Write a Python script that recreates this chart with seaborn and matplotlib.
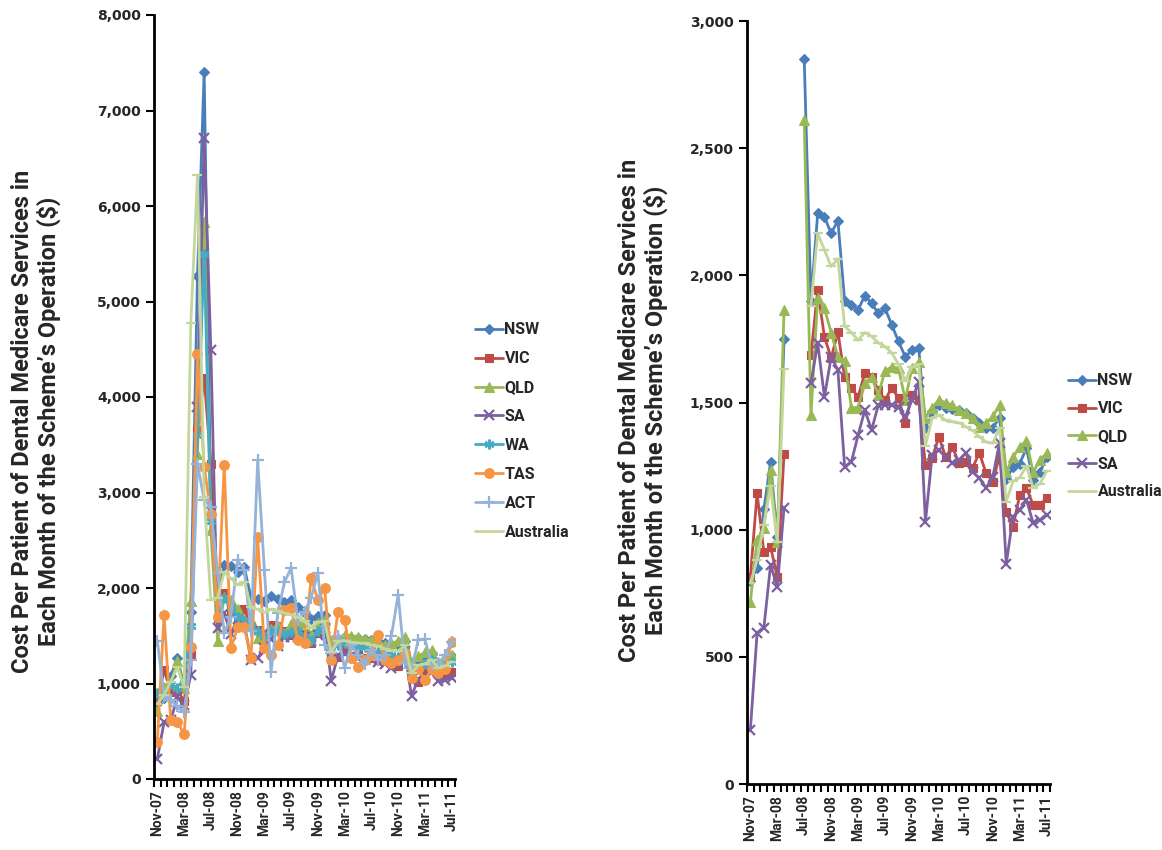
import numpy as np
import pandas as pd
import matplotlib
matplotlib.use("Agg")
import matplotlib.pyplot as plt
import seaborn as sns
from matplotlib.lines import Line2D
from matplotlib import font_manager

# ---------------- data ----------------
months = ["Nov-07", "Dec-07", "Jan-08", "Feb-08", "Mar-08", "Apr-08", "May-08", "Jun-08",
          "Jul-08", "Aug-08", "Sep-08", "Oct-08", "Nov-08", "Dec-08", "Jan-09", "Feb-09",
          "Mar-09", "Apr-09", "May-09", "Jun-09", "Jul-09", "Aug-09", "Sep-09", "Oct-09",
          "Nov-09", "Dec-09", "Jan-10", "Feb-10", "Mar-10", "Apr-10", "May-10", "Jun-10",
          "Jul-10", "Aug-10", "Sep-10", "Oct-10", "Nov-10", "Dec-10", "Jan-11", "Feb-11",
          "Mar-11", "Apr-11", "May-11", "Jun-11", "Jul-11"]
tick_labels = ["Nov-07", "Mar-08", "Jul-08", "Nov-08", "Mar-09", "Jul-09", "Nov-09",
               "Mar-10", "Jul-10", "Nov-10", "Mar-11", "Jul-11"]

# left panel (all months)
nsw = [800, 850, 1080, 1265, 970, 1750, 5270, 7400, 2850, 1900, 2245, 2230, 2165, 2215, 1900,
       1885, 1865, 1920, 1890, 1850, 1870, 1805, 1740, 1680, 1705, 1715, 1400, 1465, 1490, 1480,
       1475, 1470, 1460, 1440, 1420, 1400, 1400, 1440, 1200, 1245, 1260, 1320, 1195, 1225, 1285]
vic = [814, 1144, 912, 932, 814, 1298, 3650, 4200, 3300, 1687, 1943, 1758, 1675, 1777, 1600,
       1557, 1522, 1616, 1600, 1549, 1510, 1557, 1518, 1420, 1530, 1510, 1254, 1282, 1365, 1286,
       1325, 1262, 1266, 1243, 1302, 1223, 1188, 1290, 1070, 1011, 1136, 1164, 1097, 1097, 1125]
qld = [716, 960, 1005, 1235, 950, 1865, 3400, 5830, 2610, 1450, 1910, 1870, 1775, 1680, 1665,
       1480, 1480, 1575, 1600, 1530, 1625, 1640, 1635, 1510, 1635, 1660, 1440, 1480, 1510, 1500,
       1490, 1470, 1460, 1440, 1405, 1420, 1445, 1490, 1225, 1285, 1325, 1350, 1225, 1275, 1300]
sa = [212, 594, 613, 861, 775, 1085, 3900, 6710, 4490, 1577, 1734, 1522, 1679, 1628, 1247,
      1266, 1372, 1470, 1392, 1490, 1490, 1490, 1482, 1443, 1510, 1581, 1030, 1294, 1313, 1286,
      1262, 1274, 1302, 1227, 1203, 1164, 1207, 1341, 865, 1050, 1077, 1117, 1026, 1038, 1058]
wa = [900, 870, 1000, 950, 1050, 1600, 3600, 5500, 2700, 1700, 1900, 1800, 1700, 1650, 1600,
      1550, 1500, 1550, 1550, 1520, 1540, 1550, 1500, 1450, 1550, 1600, 1350, 1400, 1420, 1400,
      1380, 1380, 1350, 1340, 1330, 1300, 1280, 1350, 1150, 1150, 1200, 1250, 1150, 1180, 1220]
tas = [390, 1720, 615, 600, 470, 1380, 4450, 3270, 2780, 1700, 3290, 1370, 1590, 1590, 1270,
       2530, 1370, 1300, 1400, 1770, 1790, 1455, 1425, 2105, 1875, 2000, 1245, 1750, 1665, 1265,
       1175, 1250, 1300, 1510, 1250, 1215, 1250, 1320, 1060, 1150, 1040, 1150, 1110, 1150, 1435]
act = [1450, 870, 830, 760, 700, 1250, 3300, 2920, 2850, 2160, 1530, 1700, 2290, 2190, 1550,
       3340, 2190, 1120, 1740, 2060, 2210, 1665, 1750, 1900, 2160, 1400, 1320, 1500, 1160, 1400,
       1300, 1200, 1350, 1250, 1300, 1500, 1930, 1215, 1150, 1455, 1465, 1195, 1200, 1300, 1435]
australia = [790, 880, 1020, 1170, 960, 4770, 6325, 2950, 1875, 1900, 2165, 2100, 2035, 2065,
             1800, 1775, 1745, 1775, 1760, 1735, 1720, 1695, 1650, 1585, 1640, 1650, 1330, 1440,
             1450, 1430, 1425, 1420, 1405, 1390, 1365, 1345, 1340, 1400, 1110, 1190, 1205, 1250,
             1165, 1180, 1230]

# right panel (extreme months omitted -> None)
N = None
nsw_r = [800, 850, 1080, 1265, 970, 1750, N, N, 2850, 1900, 2245, 2230, 2165, 2215, 1900,
         1885, 1865, 1920, 1890, 1850, 1870, 1805, 1740, 1680, 1705, 1715, 1400, 1465, 1490,
         1480, 1475, 1470, 1460, 1440, 1420, 1400, 1400, 1440, 1200, 1245, 1260, 1320, 1195,
         1225, 1285]
vic_r = [814, 1144, 912, 932, 814, 1298, N, N, N, 1687, 1943, 1758, 1675, 1777, 1600,
         1557, 1522, 1616, 1600, 1549, 1510, 1557, 1518, 1420, 1530, 1510, 1254, 1282, 1365,
         1286, 1325, 1262, 1266, 1243, 1302, 1223, 1188, 1290, 1070, 1011, 1136, 1164, 1097,
         1097, 1125]
qld_r = [716, 960, 1005, 1235, 950, 1865, N, N, 2610, 1450, 1910, 1870, 1775, 1680, 1665,
         1480, 1480, 1575, 1600, 1530, 1625, 1640, 1635, 1510, 1635, 1660, 1440, 1480, 1510,
         1500, 1490, 1470, 1460, 1440, 1405, 1420, 1445, 1490, 1225, 1285, 1325, 1350, 1225,
         1275, 1300]
sa_r = [212, 594, 613, 861, 775, 1085, N, N, N, 1577, 1734, 1522, 1679, 1628, 1247,
        1266, 1372, 1470, 1392, 1490, 1490, 1490, 1482, 1443, 1510, 1581, 1030, 1294, 1313,
        1286, 1262, 1274, 1302, 1227, 1203, 1164, 1207, 1341, 865, 1050, 1077, 1117, 1026,
        1038, 1058]
australia_r = [790, 880, 1020, 1170, 950, 1630, N, N, N, 1880, 2165, 2100, 2035, 2065,
               1800, 1775, 1745, 1775, 1760, 1735, 1720, 1695, 1650, 1585, 1640, 1650, 1330,
               1440, 1450, 1430, 1425, 1420, 1405, 1390, 1365, 1345, 1340, 1400, 1110, 1190,
               1205, 1250, 1165, 1180, 1230]

left_series = ["NSW", "VIC", "QLD", "SA", "WA", "TAS", "ACT", "Australia"]
right_series = ["NSW", "VIC", "QLD", "SA", "Australia"]
left_values = {"NSW": nsw, "VIC": vic, "QLD": qld, "SA": sa, "WA": wa, "TAS": tas,
               "ACT": act, "Australia": australia}
right_values = {"NSW": nsw_r, "VIC": vic_r, "QLD": qld_r, "SA": sa_r,
                "Australia": australia_r}

# ---------------- styles ----------------
colors = {"NSW": "#4A7EBB", "VIC": "#BE4B48", "QLD": "#98B954", "SA": "#7D60A0",
          "WA": "#46AAC5", "TAS": "#F69544", "ACT": "#95B3D7", "Australia": "#C3D69B"}
markers = {"NSW": "D", "VIC": "s", "QLD": "^", "SA": "x", "WA": (6, 2, 0),
           "TAS": "o", "ACT": "+", "Australia": "_"}
msizes = {"NSW": 5.5, "VIC": 6, "QLD": 6.5, "SA": 6.5, "WA": 7, "TAS": 7, "ACT": 8,
          "Australia": 7}

sns.set_theme(style="white")

# pick a family that really has a bold face (narrow-ish preferred)
fam_bold = {}
for f in font_manager.fontManager.ttflist:
    w = f.weight if isinstance(f.weight, int) else (700 if "bold" in str(f.weight).lower() else 400)
    if w >= 700 and f.style == "normal":
        fam_bold[f.name] = True
label_font = "DejaVu Sans"
for cand in ["Roboto", "Lato", "Open Sans", "Noto Sans", "Liberation Sans"]:
    if cand in fam_bold:
        label_font = cand
        break
size_for = {"Roboto": 17.0, "Lato": 18.0, "Open Sans": 15.5, "Noto Sans": 15.5,
            "Liberation Sans": 16.0, "DejaVu Sans": 14.5}
plt.rcParams["font.family"] = ["DejaVu Sans"]

fig = plt.figure(figsize=(11.62, 8.5), dpi=100)
axL = fig.add_axes([154 / 1162, 1 - 779 / 850, 301 / 1162, 764 / 850])
axR = fig.add_axes([747 / 1162, 1 - 784 / 850, 303 / 1162, 763 / 850])


def draw(ax, names, vals, ymax):
    for name in names:
        v = np.array([np.nan if x is None else x for x in vals[name]], dtype=float)
        seg = np.cumsum(np.isnan(v))
        df = pd.DataFrame({"month": np.arange(len(months)), "cost": v, "seg": seg}).dropna()
        m = markers[name]
        filled = m in ("D", "s", "^", "o")
        kw = dict(marker=m, markersize=msizes[name], color=colors[name], linewidth=2.0,
                  markeredgecolor=colors[name], markeredgewidth=1.6 if not filled else 0.8)
        sns.lineplot(data=df, x="month", y="cost", units="seg", estimator=None, sort=False,
                     ax=ax, legend=False, **kw)
    ax.set_xlim(-0.5, len(months) - 0.5)
    ax.set_ylim(0, ymax)
    for s in ("top", "right"):
        ax.spines[s].set_visible(False)
    for s in ("left", "bottom"):
        ax.spines[s].set_color("black")
        ax.spines[s].set_linewidth(2.0)
    pos = [months.index(t) for t in tick_labels]
    ax.set_xticks(pos)
    ax.set_xticklabels(tick_labels, rotation=90, fontsize=10, fontweight="bold",
                       family=label_font)
    ax.set_xticks(np.arange(-0.5, len(months), 1.0), minor=True)
    ax.tick_params(axis="x", which="major", length=0, pad=8)
    ax.tick_params(axis="x", which="minor", length=6, width=1.5, direction="out",
                   color="black", bottom=True)
    step = 1000 if ymax > 3000 else 500
    yt = np.arange(0, ymax + 1, step)
    ax.set_yticks(yt)
    ax.set_yticklabels([f"{int(t):,}" for t in yt], fontsize=10, fontweight="bold")
    ax.tick_params(axis="y", length=6, width=1.5, direction="out", color="black", left=True)
    ax.set_xlabel("")
    ax.set_ylabel("")


draw(axL, left_series, left_values, 8000)
draw(axR, right_series, right_values, 3000)


def handles(names):
    hs = []
    for n in names:
        m = markers[n]
        filled = m in ("D", "s", "^", "o")
        hs.append(Line2D([0], [0], color=colors[n], lw=2.0, marker=m if n != "Australia" else None,
                         markersize=msizes[n], markeredgecolor=colors[n],
                         markeredgewidth=1.6 if not filled else 0.8))
    return hs


leg_font = {"family": label_font, "weight": "bold", "size": 11.5}
fig.legend(handles(left_series), left_series, loc="upper left",
           bbox_to_anchor=(469 / 1162, 1 - 316 / 850), frameon=False, prop=leg_font,
           handlelength=1.7, handletextpad=0.12, labelspacing=0.87, borderaxespad=0)
fig.legend(handles(right_series), right_series, loc="upper left",
           bbox_to_anchor=(1062 / 1162, 1 - 367 / 850), frameon=False, prop=leg_font,
           handlelength=1.7, handletextpad=0.12, labelspacing=0.8, borderaxespad=0)

ylabel = "Cost Per Patient of Dental Medicare Services in\nEach Month of the Scheme\u2019s Operation ($)"
fs = size_for.get(label_font, 15)
fig.text(36 / 1162, 1 - 421 / 850, ylabel, rotation=90, ha="center", va="center",
         fontsize=fs, fontweight="bold", family=label_font, linespacing=1.15)
fig.text(643 / 1162, 1 - 410 / 850, ylabel, rotation=90, ha="center", va="center",
         fontsize=fs, fontweight="bold", family=label_font, linespacing=1.15)

fig.savefig("out.png", dpi=100, facecolor="white")
